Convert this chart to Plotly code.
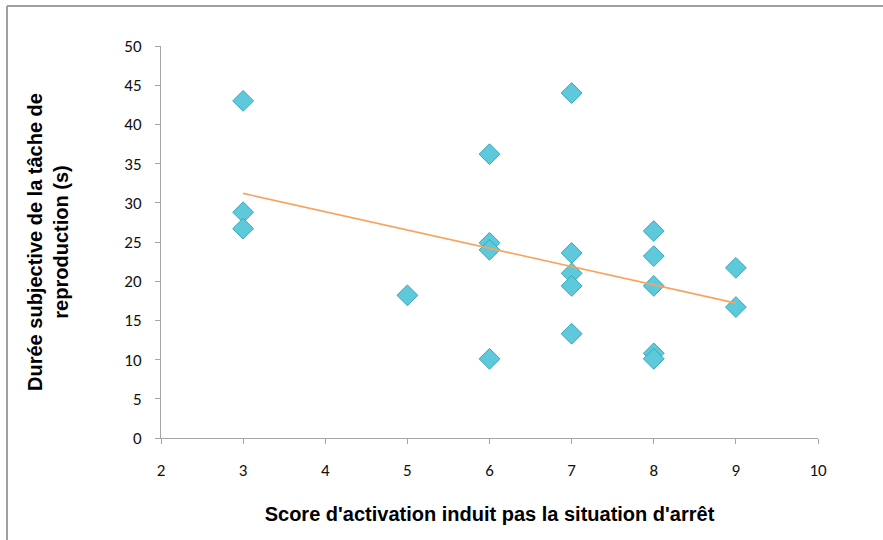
import plotly.graph_objects as go

# Data
score_x = [3, 3, 3, 5, 6, 6, 6, 6, 7, 7, 7, 7, 7, 8, 8, 8, 8, 8, 9, 9]
duree_y = [43.0, 28.8, 26.7, 18.2, 36.2, 24.9, 24.0, 10.1,
           44.0, 23.6, 21.0, 19.4, 13.3,
           26.4, 23.2, 19.4, 10.8, 10.1, 21.7, 16.7]

trend_x = [3, 9]
trend_y = [31.2, 17.2]

x_ticks = [2, 3, 4, 5, 6, 7, 8, 9, 10]
y_ticks = [0, 5, 10, 15, 20, 25, 30, 35, 40, 45, 50]

W, H = 883, 540
L, R, T, B = 161, 65, 46, 102
pw, ph = W - L - R, H - T - B

fig = go.Figure()
fig.add_trace(go.Scatter(
    x=score_x, y=duree_y, mode="markers",
    marker=dict(symbol="diamond", size=16, color="#5dc9da",
                line=dict(color="#3aa6ba", width=1)),
    showlegend=False, hoverinfo="x+y"))
fig.add_trace(go.Scatter(
    x=trend_x, y=trend_y, mode="lines",
    line=dict(color="#f7a45e", width=1.6),
    showlegend=False, hoverinfo="skip"))

tickfont = dict(family="Liberation Sans Narrow, Carlito, Noto Sans, sans-serif", size=17, color="#111111")
titlefont = dict(family="Liberation Sans, Arial, sans-serif", size=20, color="#000000")

fig.update_layout(
    width=W, height=H,
    margin=dict(l=L, r=R, t=T, b=B),
    paper_bgcolor="white", plot_bgcolor="white",
    xaxis=dict(range=[2, 10], tickvals=x_ticks, showgrid=False, zeroline=False,
               showline=True, linecolor="#a6a6a6", linewidth=1,
               ticks="outside", ticklen=5, tickcolor="#a6a6a6",
               tickfont=tickfont, ticklabelstandoff=12,
               title=dict(text="<b>Score d'activation induit pas la situation d'arrêt</b>",
                          font=titlefont, standoff=26)),
    yaxis=dict(range=[0, 50], tickvals=y_ticks, showgrid=False, zeroline=False,
               showline=True, linecolor="#a6a6a6", linewidth=1,
               ticks="outside", ticklen=5, tickcolor="#a6a6a6",
               tickfont=tickfont, ticklabelstandoff=10,
               title=dict(text="<b>Durée subjective de la tâche de<br>reproduction (s)</b>",
                          font=titlefont, standoff=50)),
)

# Chart-area border (top and left edges visible in reference)
x_left = (7 - L) / pw
x_right = (W + 10 - L) / pw
y_top = (H - B - 6) / ph
y_bot = (H - B - (H + 10)) / ph
fig.add_shape(type="line", xref="paper", yref="paper", x0=x_left, x1=x_right, y0=y_top, y1=y_top,
              line=dict(color="#a0a0a0", width=2))
fig.add_shape(type="line", xref="paper", yref="paper", x0=x_left, x1=x_left, y0=y_bot, y1=y_top,
              line=dict(color="#a0a0a0", width=2))

fig.write_html("out.html", config={"displayModeBar": False},
               post_script="document.body.style.margin='0';")
